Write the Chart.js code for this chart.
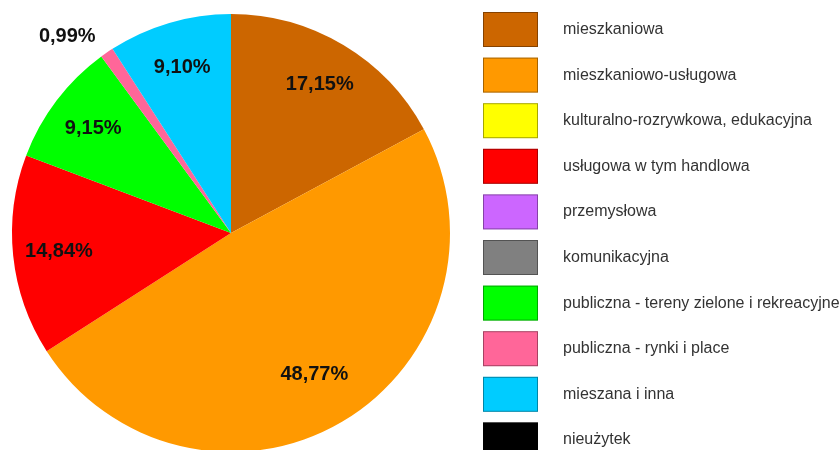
<!DOCTYPE html>
<html>
<head>
<meta charset="utf-8">
<script src="https://cdn.jsdelivr.net/npm/chart.js@4.4.0/dist/chart.umd.min.js"></script>
<style>
  html, body { margin: 0; padding: 0; background: #fff; overflow: hidden; }
  #wrap { width: 840px; height: 450px; position: relative; }
</style>
</head>
<body>
<div id="wrap"><canvas id="landUseChart" width="840" height="450"></canvas></div>
<script>
// kategorie przeznaczenia terenu (kolejnosc = legenda, zgodnie z ruchem wskazowek od gory)
const categories = [
  "mieszkaniowa",
  "mieszkaniowo-usługowa",
  "kulturalno-rozrywkowa, edukacyjna",
  "usługowa w tym handlowa",
  "przemysłowa",
  "komunikacyjna",
  "publiczna - tereny zielone i rekreacyjne",
  "publiczna - rynki i place",
  "mieszana i inna",
  "nieużytek",
];

// udzial procentowy
const shares = [17.15, 48.77, 0, 14.84, 0, 0, 9.15, 0.99, 9.10, 0];

const sliceColors = [
  "#CC6600",
  "#FF9900",
  "#FFFF00",
  "#FF0000",
  "#CC66FF",
  "#808080",
  "#00FF00",
  "#FF6699",
  "#00CCFF",
  "#000000",
];

function fmtPct(v) {
  return v.toFixed(2).replace(".", ",") + "%";
}

// etykiety procentowe na wycinkach
const pctLabels = {
  id: "pctLabels",
  afterDatasetsDraw(chart) {
    const ctx = chart.ctx;
    const meta = chart.getDatasetMeta(0);
    const data = chart.data.datasets[0].data;
    ctx.save();
    ctx.font = "bold 20px 'Liberation Sans', Arial, sans-serif";
    ctx.fillStyle = "#111";
    ctx.textBaseline = "middle";
    meta.data.forEach((arc, i) => {
      const v = data[i];
      if (!v) return;
      const p = arc.getProps(["x", "y", "startAngle", "endAngle", "outerRadius"], true);
      const mid = (p.startAngle + p.endAngle) / 2;
      const cx = Math.cos(mid), cy = Math.sin(mid);
      if (v < 2) {
        // male wycinki - etykieta na zewnatrz
        const r = p.outerRadius * 1.09;
        ctx.textAlign = cx < 0 ? "right" : "left";
        ctx.fillText(fmtPct(v), p.x + cx * r, p.y + cy * r);
      } else {
        const r = p.outerRadius * (v > 40 ? 0.75 : 0.79);
        ctx.textAlign = "center";
        ctx.fillText(fmtPct(v), p.x + cx * r, p.y + cy * r);
      }
    });
    ctx.restore();
  }
};

// legenda po prawej - duze prostokaty
const boxLegend = {
  id: "boxLegend",
  afterDraw(chart) {
    const ctx = chart.ctx;
    const labels = chart.data.labels;
    const colors = chart.data.datasets[0].backgroundColor;
    const x0 = 483, y0 = 12, rowH = 45.6, boxW = 55, boxH = 35;
    ctx.save();
    ctx.font = "16px 'Liberation Sans', Arial, sans-serif";
    ctx.textBaseline = "middle";
    ctx.textAlign = "left";
    labels.forEach((lbl, i) => {
      const y = y0 + i * rowH;
      ctx.fillStyle = colors[i];
      ctx.fillRect(x0, y, boxW, boxH);
      ctx.strokeStyle = "rgba(0,0,0,0.35)";
      ctx.lineWidth = 1;
      ctx.strokeRect(x0 + 0.5, y + 0.5, boxW - 1, boxH - 1);
      ctx.fillStyle = "#333";
      ctx.fillText(lbl, 563, y + boxH / 2);
    });
    ctx.restore();
  }
};

const config_pie = {
  type: "pie",
  data: {
    labels: categories,
    datasets: [{
      data: shares,
      backgroundColor: sliceColors,
      borderWidth: 0,
      radius: 219,
    }],
  },
  options: {
    responsive: false,
    animation: false,
    layout: { padding: { left: 0, right: 378, top: 16, bottom: 0 } },
    plugins: {
      legend: { display: false },
      tooltip: { enabled: false },
    },
  },
  plugins: [pctLabels, boxLegend],
};

const landUseChart = new Chart(document.getElementById("landUseChart"), config_pie);
</script>
</body>
</html>
